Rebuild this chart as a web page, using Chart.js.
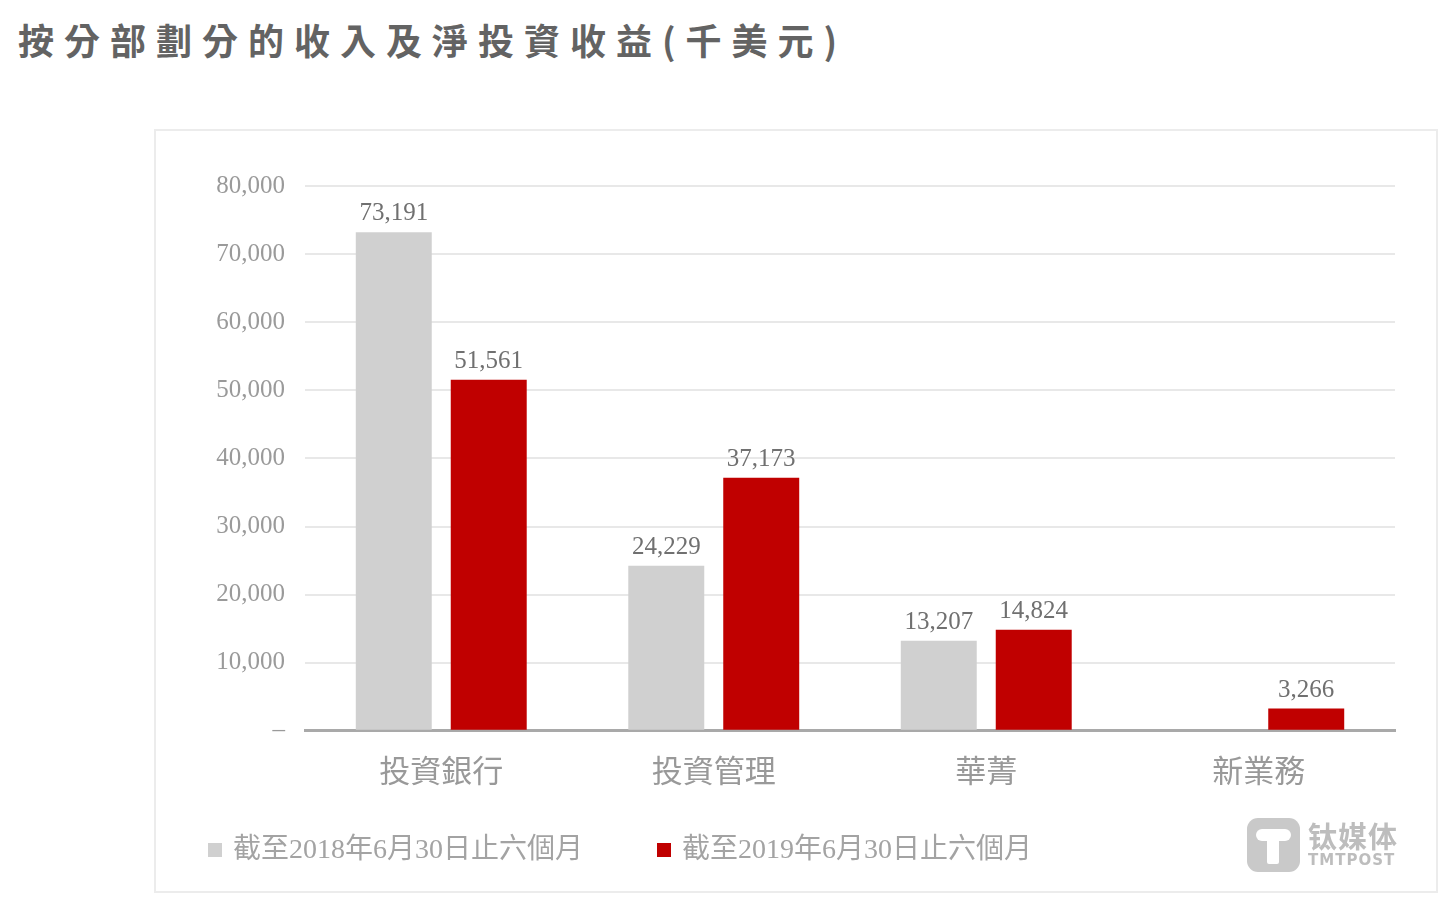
<!DOCTYPE html>
<html>
<head>
<meta charset="utf-8">
<script src="https://cdn.jsdelivr.net/npm/chart.js@4"></script>
<style>
  html, body { margin: 0; padding: 0; background: #fff; }
  body { width: 1440px; height: 898px; position: relative; overflow: hidden; }
  h1 {
    position: absolute; left: 18px; top: 13px; margin: 0;
    font: 700 36px "Noto Sans CJK TC", sans-serif;
    letter-spacing: 10px; color: #636363; white-space: nowrap;
  }
  .frame {
    position: absolute; left: 154px; top: 129px; width: 1280px; height: 760px;
    border: 2px solid #ececec;
  }
  .wrap { position: absolute; left: 141px; top: 130px; width: 1294px; height: 760px; }
  .logo { position: absolute; left: 1247px; top: 818px; width: 53px; height: 54px; border-radius: 11px; background: #c9c9c9; }
  .logo .bar { position: absolute; left: 9px; top: 11px; width: 35px; height: 12px; border-radius: 6px; background: #fff; }
  .logo .stem { position: absolute; left: 20px; top: 16px; width: 12px; height: 30px; border-radius: 2px; background: #fff; }
  .brand { position: absolute; left: 1308px; top: 818px; color: #bdbdbd; font-family: "Noto Sans CJK SC", sans-serif; }
  .brand .cn { font-size: 29px; font-weight: 700; line-height: 34px; letter-spacing: 1px; }
  .brand .en { font-size: 15px; font-weight: 700; line-height: 16px; letter-spacing: 1px; font-family: "DejaVu Sans", sans-serif; }
</style>
</head>
<body>
<h1>按分部劃分的收入及淨投資收益(千美元)</h1>
<div class="frame"></div>
<div class="wrap"><canvas id="segChart"></canvas></div>
<div class="logo"><div class="bar"></div><div class="stem"></div></div>
<div class="brand"><div class="cn">钛媒体</div><div class="en">TMTPOST</div></div>
<script>
const categories = ['投資銀行', '投資管理', '華菁', '新業務'];
const seriesNames = ['截至2018年6月30日止六個月', '截至2019年6月30日止六個月'];
const values2018 = [73191, 24229, 13207, null];
const values2019 = [51561, 37173, 14824, 3266];
const yTicks = [0, 10000, 20000, 30000, 40000, 50000, 60000, 70000, 80000];
const yTickLabels = ['–', '10,000', '20,000', '30,000', '40,000', '50,000', '60,000', '70,000', '80,000'];

const grayColor = '#d0d0d0';
const redColor = '#c00000';
const serif = '"Liberation Serif", "DejaVu Serif", serif';
const cjk = '"Liberation Serif", "Noto Sans CJK TC", sans-serif';

// numbers above the bars
const valueLabels = {
  id: 'valueLabels',
  afterDatasetsDraw(chart) {
    const ctx = chart.ctx;
    ctx.save();
    ctx.font = '25px ' + serif;
    ctx.fillStyle = '#707070';
    ctx.textAlign = 'center';
    ctx.textBaseline = 'bottom';
    chart.data.datasets.forEach((ds, i) => {
      chart.getDatasetMeta(i).data.forEach((bar, j) => {
        const v = ds.data[j];
        if (v == null) return;
        ctx.fillText(v.toLocaleString('en-US'), bar.x, bar.y - 6);
      });
    });
    ctx.restore();
  }
};

// legend drawn under the axis labels, left aligned like the source
const bottomLegend = {
  id: 'bottomLegend',
  afterDraw(chart) {
    const ctx = chart.ctx;
    ctx.save();
    ctx.font = '28px ' + cjk;
    ctx.textBaseline = 'middle';
    let x = 67;
    const y = 720;
    chart.data.datasets.forEach(ds => {
      ctx.fillStyle = ds.backgroundColor;
      ctx.fillRect(x, y - 7, 14, 14);
      ctx.fillStyle = '#a3a3a3';
      ctx.fillText(ds.label, x + 25, y + 1);
      x += 25 + ctx.measureText(ds.label).width + 74;
    });
    ctx.restore();
  }
};

new Chart(document.getElementById('segChart'), {
  type: 'bar',
  data: {
    labels: categories,
    datasets: [
      { label: seriesNames[0], data: values2018, backgroundColor: grayColor },
      { label: seriesNames[1], data: values2019, backgroundColor: redColor }
    ]
  },
  options: {
    responsive: true,
    maintainAspectRatio: false,
    animation: false,
    categoryPercentage: 0.697,
    barPercentage: 0.8,
    layout: { padding: { top: 56, right: 40, bottom: 80, left: 0 } },
    plugins: {
      legend: { display: false },
      tooltip: { enabled: false }
    },
    scales: {
      x: {
        grid: { display: false, drawTicks: false },
        border: { color: '#a9a9a9', width: 3 },
        ticks: { padding: 21, color: '#999999', font: { size: 31, family: '"Noto Sans CJK TC", sans-serif' } }
      },
      y: {
        min: 0,
        max: 80000,
        afterFit(axis) { axis.width = 164; },
        afterBuildTicks(axis) { axis.ticks = yTicks.map(v => ({ value: v })); },
        grid: { color: '#e8e8e8', lineWidth: 2, drawTicks: false },
        border: { display: false },
        ticks: {
          padding: 20,
          color: '#9a9a9a',
          font: { size: 25, family: serif },
          callback: (v) => yTickLabels[yTicks.indexOf(v)]
        }
      }
    }
  },
  plugins: [valueLabels, bottomLegend]
});
</script>
</body>
</html>
